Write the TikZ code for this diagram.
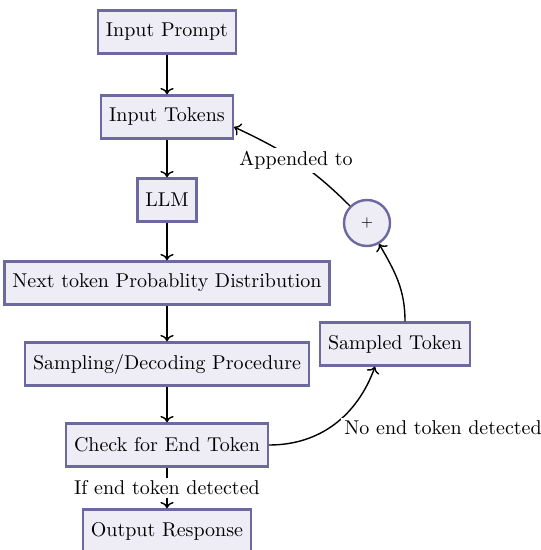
\documentclass[tikz,border=0pt]{standalone}
\usetikzlibrary{arrows.meta}
\definecolor{boxfill}{HTML}{EEEDF6}
\definecolor{boxline}{HTML}{6C68A0}
\begin{document}
\begin{tikzpicture}[x=0.5pt, y=-0.5pt,
    blk/.style={draw=boxline, fill=boxfill, line width=1.2pt, minimum height=21.5pt, inner xsep=4pt},
    arr/.style={->, line width=0.7pt},
    lbl/.style={fill=white, inner sep=1.5pt}]
    \useasboundingbox (0,0) rectangle (540,550);

    % main column
    \node[blk] (prompt) at (167,32) {Input Prompt};
    \node[blk] (tokens) at (167,117) {Input Tokens};
    \node[blk] (llm) at (167,200) {LLM};
    \node[blk] (dist) at (167,283) {Next token Probablity Distribution};
    \node[blk] (sampling) at (167,364) {Sampling/Decoding Procedure};
    \node[blk] (check) at (167,445) {Check for End Token};
    \node[blk] (output) at (167,531) {Output Response};

    % loop back
    \node[blk] (sampled) at (395,344) {Sampled Token};
    \node[blk, circle, minimum size=23pt, inner sep=0pt] (plus) at (367,223) {\scriptsize +};

    \draw[arr] (prompt) -- (tokens);
    \draw[arr] (tokens) -- (llm);
    \draw[arr] (llm) -- (dist);
    \draw[arr] (dist) -- (sampling);
    \draw[arr] (sampling) -- (check);
    \draw[arr] (check) -- node[lbl] {If end token detected} (output);
    \draw[arr] (check.east) to[out=0, in=-110] node[lbl, pos=0.5, anchor=west, xshift=3pt, yshift=-2pt] {No end token detected} ([xshift=-10pt]sampled.south);
    \draw[arr] ([xshift=5pt]sampled.north) to[out=90, in=-60] (plus);
    \draw[arr] (plus) to[out=135, in=-25] node[lbl] {Appended to} ([yshift=-5pt]tokens.east);
\end{tikzpicture}
\end{document}
